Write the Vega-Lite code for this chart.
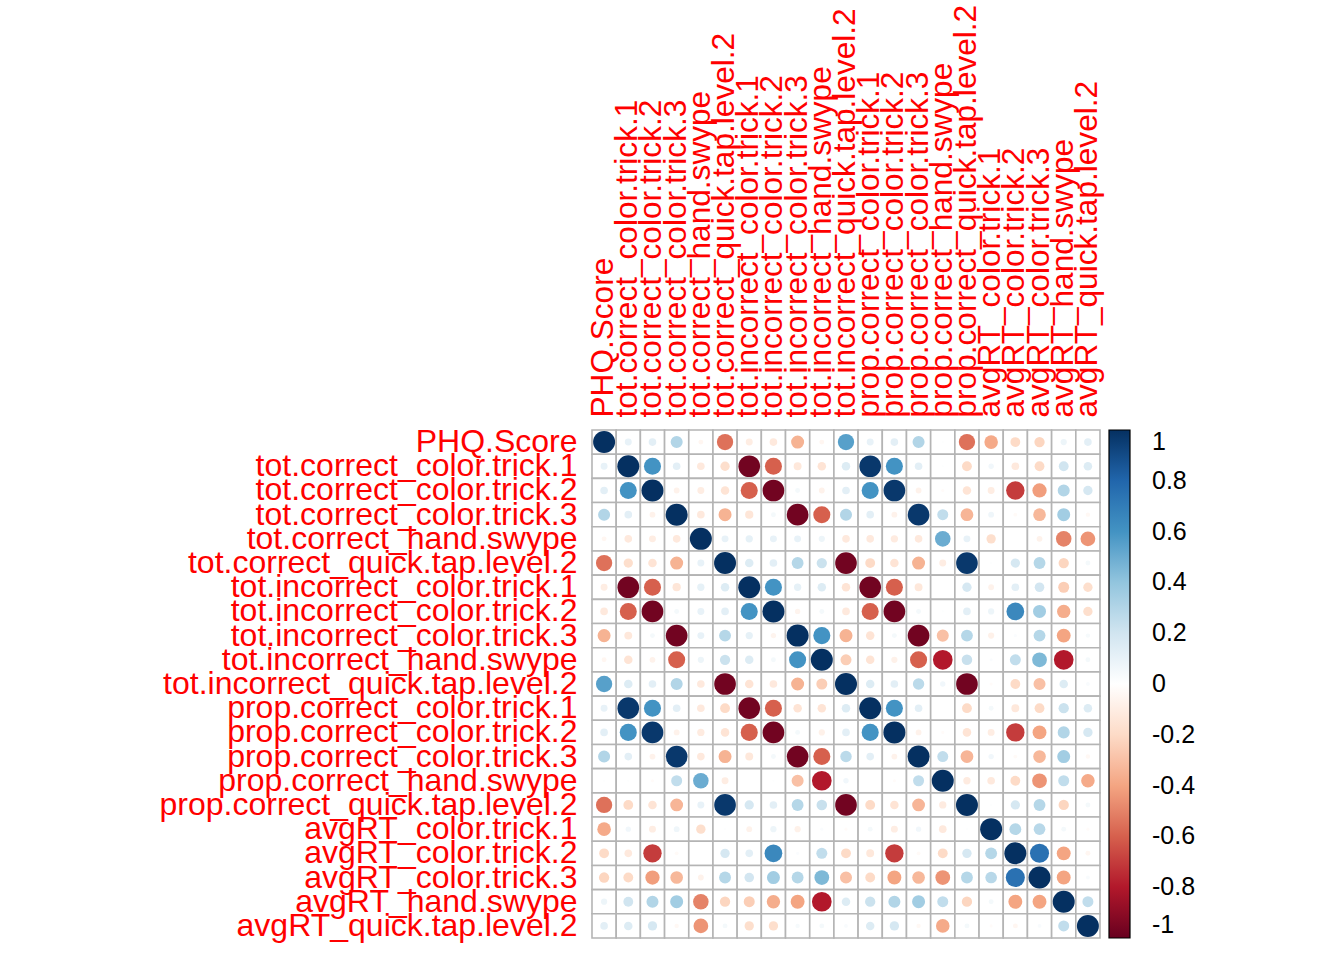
{
"$schema": "https://vega.github.io/schema/vega-lite/v6.json",
"width": 508, "height": 508,
"autosize": {"type": "none"},
"padding": {"left": 592, "top": 430, "right": 244, "bottom": 22},
"config": {"view": {"stroke": null}, "font": "Liberation Sans"},
"data": {"values": [
{"i":0,"j":0,"r":1},{"i":0,"j":1,"r":0.1},{"i":0,"j":2,"r":0.12},{"i":0,"j":3,"r":0.3},{"i":0,"j":4,"r":-0.05},{"i":0,"j":5,"r":-0.55},{"i":0,"j":6,"r":-0.1},{"i":0,"j":7,"r":-0.12},{"i":0,"j":8,"r":-0.35},{"i":0,"j":9,"r":-0.05},{"i":0,"j":10,"r":0.55},{"i":0,"j":11,"r":0.1},{"i":0,"j":12,"r":0.12},{"i":0,"j":13,"r":0.3},{"i":0,"j":14,"r":0.01},{"i":0,"j":15,"r":-0.55},{"i":0,"j":16,"r":-0.38},{"i":0,"j":17,"r":-0.2},{"i":0,"j":18,"r":-0.22},{"i":0,"j":19,"r":0.08},{"i":0,"j":20,"r":0.12},
{"i":1,"j":0,"r":0.1},{"i":1,"j":1,"r":1},{"i":1,"j":2,"r":0.6},{"i":1,"j":3,"r":0.12},{"i":1,"j":4,"r":-0.12},{"i":1,"j":5,"r":-0.18},{"i":1,"j":6,"r":-0.97},{"i":1,"j":7,"r":-0.6},{"i":1,"j":8,"r":-0.13},{"i":1,"j":9,"r":-0.15},{"i":1,"j":10,"r":0.15},{"i":1,"j":11,"r":0.97},{"i":1,"j":12,"r":0.6},{"i":1,"j":13,"r":0.12},{"i":1,"j":14,"r":0.01},{"i":1,"j":15,"r":-0.2},{"i":1,"j":16,"r":0.06},{"i":1,"j":17,"r":-0.12},{"i":1,"j":18,"r":-0.2},{"i":1,"j":19,"r":0.2},{"i":1,"j":20,"r":0.15},
{"i":2,"j":0,"r":0.12},{"i":2,"j":1,"r":0.6},{"i":2,"j":2,"r":1},{"i":2,"j":3,"r":-0.07},{"i":2,"j":4,"r":-0.1},{"i":2,"j":5,"r":-0.15},{"i":2,"j":6,"r":-0.6},{"i":2,"j":7,"r":-0.97},{"i":2,"j":8,"r":0.05},{"i":2,"j":9,"r":-0.07},{"i":2,"j":10,"r":0.12},{"i":2,"j":11,"r":0.6},{"i":2,"j":12,"r":0.97},{"i":2,"j":13,"r":-0.07},{"i":2,"j":14,"r":-0.02},{"i":2,"j":15,"r":-0.15},{"i":2,"j":16,"r":-0.1},{"i":2,"j":17,"r":-0.7},{"i":2,"j":18,"r":-0.42},{"i":2,"j":19,"r":0.3},{"i":2,"j":20,"r":0.18},
{"i":3,"j":0,"r":0.3},{"i":3,"j":1,"r":0.12},{"i":3,"j":2,"r":-0.07},{"i":3,"j":3,"r":1},{"i":3,"j":4,"r":-0.12},{"i":3,"j":5,"r":-0.35},{"i":3,"j":6,"r":-0.14},{"i":3,"j":7,"r":0.05},{"i":3,"j":8,"r":-0.97},{"i":3,"j":9,"r":-0.6},{"i":3,"j":10,"r":0.3},{"i":3,"j":11,"r":0.12},{"i":3,"j":12,"r":-0.07},{"i":3,"j":13,"r":0.97},{"i":3,"j":14,"r":0.25},{"i":3,"j":15,"r":-0.34},{"i":3,"j":16,"r":0.07},{"i":3,"j":17,"r":-0.03},{"i":3,"j":18,"r":-0.33},{"i":3,"j":19,"r":0.35},{"i":3,"j":20,"r":-0.04},
{"i":4,"j":0,"r":-0.05},{"i":4,"j":1,"r":-0.12},{"i":4,"j":2,"r":-0.1},{"i":4,"j":3,"r":-0.12},{"i":4,"j":4,"r":1},{"i":4,"j":5,"r":0.1},{"i":4,"j":6,"r":0.11},{"i":4,"j":7,"r":0.1},{"i":4,"j":8,"r":0.1},{"i":4,"j":9,"r":0.08},{"i":4,"j":10,"r":-0.12},{"i":4,"j":11,"r":-0.12},{"i":4,"j":12,"r":-0.11},{"i":4,"j":13,"r":-0.12},{"i":4,"j":14,"r":0.5},{"i":4,"j":15,"r":0.1},{"i":4,"j":16,"r":-0.18},{"i":4,"j":17,"r":0},{"i":4,"j":18,"r":-0.07},{"i":4,"j":19,"r":-0.5},{"i":4,"j":20,"r":-0.45},
{"i":5,"j":0,"r":-0.55},{"i":5,"j":1,"r":-0.18},{"i":5,"j":2,"r":-0.15},{"i":5,"j":3,"r":-0.35},{"i":5,"j":4,"r":0.1},{"i":5,"j":5,"r":1},{"i":5,"j":6,"r":0.15},{"i":5,"j":7,"r":0.12},{"i":5,"j":8,"r":0.29},{"i":5,"j":9,"r":0.22},{"i":5,"j":10,"r":-0.97},{"i":5,"j":11,"r":-0.2},{"i":5,"j":12,"r":-0.15},{"i":5,"j":13,"r":-0.35},{"i":5,"j":14,"r":-0.1},{"i":5,"j":15,"r":0.97},{"i":5,"j":16,"r":0.01},{"i":5,"j":17,"r":0.18},{"i":5,"j":18,"r":0.29},{"i":5,"j":19,"r":-0.22},{"i":5,"j":20,"r":0.05},
{"i":6,"j":0,"r":-0.1},{"i":6,"j":1,"r":-0.97},{"i":6,"j":2,"r":-0.6},{"i":6,"j":3,"r":-0.14},{"i":6,"j":4,"r":0.11},{"i":6,"j":5,"r":0.15},{"i":6,"j":6,"r":1},{"i":6,"j":7,"r":0.6},{"i":6,"j":8,"r":0.11},{"i":6,"j":9,"r":0.15},{"i":6,"j":10,"r":-0.15},{"i":6,"j":11,"r":-0.97},{"i":6,"j":12,"r":-0.6},{"i":6,"j":13,"r":-0.13},{"i":6,"j":14,"r":0},{"i":6,"j":15,"r":0.18},{"i":6,"j":16,"r":-0.07},{"i":6,"j":17,"r":0.12},{"i":6,"j":18,"r":0.19},{"i":6,"j":19,"r":-0.25},{"i":6,"j":20,"r":-0.18},
{"i":7,"j":0,"r":-0.12},{"i":7,"j":1,"r":-0.6},{"i":7,"j":2,"r":-0.97},{"i":7,"j":3,"r":0.05},{"i":7,"j":4,"r":0.1},{"i":7,"j":5,"r":0.12},{"i":7,"j":6,"r":0.6},{"i":7,"j":7,"r":1},{"i":7,"j":8,"r":-0.06},{"i":7,"j":9,"r":0.05},{"i":7,"j":10,"r":-0.12},{"i":7,"j":11,"r":-0.6},{"i":7,"j":12,"r":-0.97},{"i":7,"j":13,"r":0.05},{"i":7,"j":14,"r":0.01},{"i":7,"j":15,"r":0.12},{"i":7,"j":16,"r":0.08},{"i":7,"j":17,"r":0.65},{"i":7,"j":18,"r":0.35},{"i":7,"j":19,"r":-0.37},{"i":7,"j":20,"r":-0.18},
{"i":8,"j":0,"r":-0.35},{"i":8,"j":1,"r":-0.13},{"i":8,"j":2,"r":0.05},{"i":8,"j":3,"r":-0.97},{"i":8,"j":4,"r":0.1},{"i":8,"j":5,"r":0.29},{"i":8,"j":6,"r":0.11},{"i":8,"j":7,"r":-0.06},{"i":8,"j":8,"r":1},{"i":8,"j":9,"r":0.6},{"i":8,"j":10,"r":-0.35},{"i":8,"j":11,"r":-0.15},{"i":8,"j":12,"r":0.05},{"i":8,"j":13,"r":-0.97},{"i":8,"j":14,"r":-0.3},{"i":8,"j":15,"r":0.29},{"i":8,"j":16,"r":-0.08},{"i":8,"j":17,"r":0.02},{"i":8,"j":18,"r":0.29},{"i":8,"j":19,"r":-0.4},{"i":8,"j":20,"r":0.04},
{"i":9,"j":0,"r":-0.05},{"i":9,"j":1,"r":-0.15},{"i":9,"j":2,"r":-0.07},{"i":9,"j":3,"r":-0.6},{"i":9,"j":4,"r":0.08},{"i":9,"j":5,"r":0.22},{"i":9,"j":6,"r":0.15},{"i":9,"j":7,"r":0.05},{"i":9,"j":8,"r":0.6},{"i":9,"j":9,"r":1},{"i":9,"j":10,"r":-0.25},{"i":9,"j":11,"r":-0.15},{"i":9,"j":12,"r":-0.08},{"i":9,"j":13,"r":-0.6},{"i":9,"j":14,"r":-0.8},{"i":9,"j":15,"r":0.23},{"i":9,"j":16,"r":0.02},{"i":9,"j":17,"r":0.25},{"i":9,"j":18,"r":0.45},{"i":9,"j":19,"r":-0.8},{"i":9,"j":20,"r":0.05},
{"i":10,"j":0,"r":0.55},{"i":10,"j":1,"r":0.15},{"i":10,"j":2,"r":0.12},{"i":10,"j":3,"r":0.3},{"i":10,"j":4,"r":-0.12},{"i":10,"j":5,"r":-0.97},{"i":10,"j":6,"r":-0.15},{"i":10,"j":7,"r":-0.12},{"i":10,"j":8,"r":-0.35},{"i":10,"j":9,"r":-0.25},{"i":10,"j":10,"r":1},{"i":10,"j":11,"r":0.15},{"i":10,"j":12,"r":0.12},{"i":10,"j":13,"r":0.27},{"i":10,"j":14,"r":0.06},{"i":10,"j":15,"r":-0.97},{"i":10,"j":16,"r":-0.02},{"i":10,"j":17,"r":-0.2},{"i":10,"j":18,"r":-0.3},{"i":10,"j":19,"r":0.15},{"i":10,"j":20,"r":0.03},
{"i":11,"j":0,"r":0.1},{"i":11,"j":1,"r":0.97},{"i":11,"j":2,"r":0.6},{"i":11,"j":3,"r":0.12},{"i":11,"j":4,"r":-0.12},{"i":11,"j":5,"r":-0.2},{"i":11,"j":6,"r":-0.97},{"i":11,"j":7,"r":-0.6},{"i":11,"j":8,"r":-0.15},{"i":11,"j":9,"r":-0.15},{"i":11,"j":10,"r":0.15},{"i":11,"j":11,"r":1},{"i":11,"j":12,"r":0.6},{"i":11,"j":13,"r":0.12},{"i":11,"j":14,"r":0},{"i":11,"j":15,"r":-0.2},{"i":11,"j":16,"r":0.05},{"i":11,"j":17,"r":-0.13},{"i":11,"j":18,"r":-0.2},{"i":11,"j":19,"r":0.22},{"i":11,"j":20,"r":0.15},
{"i":12,"j":0,"r":0.12},{"i":12,"j":1,"r":0.6},{"i":12,"j":2,"r":0.97},{"i":12,"j":3,"r":-0.07},{"i":12,"j":4,"r":-0.11},{"i":12,"j":5,"r":-0.15},{"i":12,"j":6,"r":-0.6},{"i":12,"j":7,"r":-0.97},{"i":12,"j":8,"r":0.05},{"i":12,"j":9,"r":-0.08},{"i":12,"j":10,"r":0.12},{"i":12,"j":11,"r":0.6},{"i":12,"j":12,"r":1},{"i":12,"j":13,"r":-0.07},{"i":12,"j":14,"r":-0.02},{"i":12,"j":15,"r":-0.15},{"i":12,"j":16,"r":-0.1},{"i":12,"j":17,"r":-0.7},{"i":12,"j":18,"r":-0.4},{"i":12,"j":19,"r":0.3},{"i":12,"j":20,"r":0.18},
{"i":13,"j":0,"r":0.3},{"i":13,"j":1,"r":0.12},{"i":13,"j":2,"r":-0.07},{"i":13,"j":3,"r":0.97},{"i":13,"j":4,"r":-0.12},{"i":13,"j":5,"r":-0.35},{"i":13,"j":6,"r":-0.13},{"i":13,"j":7,"r":0.05},{"i":13,"j":8,"r":-0.97},{"i":13,"j":9,"r":-0.6},{"i":13,"j":10,"r":0.27},{"i":13,"j":11,"r":0.12},{"i":13,"j":12,"r":-0.07},{"i":13,"j":13,"r":1},{"i":13,"j":14,"r":0.25},{"i":13,"j":15,"r":-0.34},{"i":13,"j":16,"r":0.06},{"i":13,"j":17,"r":-0.03},{"i":13,"j":18,"r":-0.33},{"i":13,"j":19,"r":0.35},{"i":13,"j":20,"r":-0.04},
{"i":14,"j":0,"r":0.01},{"i":14,"j":1,"r":0.01},{"i":14,"j":2,"r":-0.02},{"i":14,"j":3,"r":0.25},{"i":14,"j":4,"r":0.5},{"i":14,"j":5,"r":-0.1},{"i":14,"j":6,"r":0},{"i":14,"j":7,"r":0.01},{"i":14,"j":8,"r":-0.3},{"i":14,"j":9,"r":-0.8},{"i":14,"j":10,"r":0.06},{"i":14,"j":11,"r":0},{"i":14,"j":12,"r":-0.02},{"i":14,"j":13,"r":0.25},{"i":14,"j":14,"r":1},{"i":14,"j":15,"r":-0.11},{"i":14,"j":16,"r":-0.12},{"i":14,"j":17,"r":-0.2},{"i":14,"j":18,"r":-0.45},{"i":14,"j":19,"r":0.25},{"i":14,"j":20,"r":-0.38},
{"i":15,"j":0,"r":-0.55},{"i":15,"j":1,"r":-0.2},{"i":15,"j":2,"r":-0.15},{"i":15,"j":3,"r":-0.34},{"i":15,"j":4,"r":0.1},{"i":15,"j":5,"r":0.97},{"i":15,"j":6,"r":0.18},{"i":15,"j":7,"r":0.12},{"i":15,"j":8,"r":0.29},{"i":15,"j":9,"r":0.23},{"i":15,"j":10,"r":-0.97},{"i":15,"j":11,"r":-0.2},{"i":15,"j":12,"r":-0.15},{"i":15,"j":13,"r":-0.34},{"i":15,"j":14,"r":-0.11},{"i":15,"j":15,"r":1},{"i":15,"j":16,"r":0.01},{"i":15,"j":17,"r":0.18},{"i":15,"j":18,"r":0.29},{"i":15,"j":19,"r":-0.22},{"i":15,"j":20,"r":0.05},
{"i":16,"j":0,"r":-0.38},{"i":16,"j":1,"r":0.06},{"i":16,"j":2,"r":-0.1},{"i":16,"j":3,"r":0.07},{"i":16,"j":4,"r":-0.18},{"i":16,"j":5,"r":0.01},{"i":16,"j":6,"r":-0.07},{"i":16,"j":7,"r":0.08},{"i":16,"j":8,"r":-0.08},{"i":16,"j":9,"r":0.02},{"i":16,"j":10,"r":-0.02},{"i":16,"j":11,"r":0.05},{"i":16,"j":12,"r":-0.1},{"i":16,"j":13,"r":0.06},{"i":16,"j":14,"r":-0.12},{"i":16,"j":15,"r":0.01},{"i":16,"j":16,"r":1},{"i":16,"j":17,"r":0.29},{"i":16,"j":18,"r":0.28},{"i":16,"j":19,"r":0.05},{"i":16,"j":20,"r":-0.02},
{"i":17,"j":0,"r":-0.2},{"i":17,"j":1,"r":-0.12},{"i":17,"j":2,"r":-0.7},{"i":17,"j":3,"r":-0.03},{"i":17,"j":4,"r":0},{"i":17,"j":5,"r":0.18},{"i":17,"j":6,"r":0.12},{"i":17,"j":7,"r":0.65},{"i":17,"j":8,"r":0.02},{"i":17,"j":9,"r":0.25},{"i":17,"j":10,"r":-0.2},{"i":17,"j":11,"r":-0.13},{"i":17,"j":12,"r":-0.7},{"i":17,"j":13,"r":-0.03},{"i":17,"j":14,"r":-0.2},{"i":17,"j":15,"r":0.18},{"i":17,"j":16,"r":0.29},{"i":17,"j":17,"r":1},{"i":17,"j":18,"r":0.75},{"i":17,"j":19,"r":-0.4},{"i":17,"j":20,"r":-0.05},
{"i":18,"j":0,"r":-0.22},{"i":18,"j":1,"r":-0.2},{"i":18,"j":2,"r":-0.42},{"i":18,"j":3,"r":-0.33},{"i":18,"j":4,"r":-0.07},{"i":18,"j":5,"r":0.29},{"i":18,"j":6,"r":0.19},{"i":18,"j":7,"r":0.35},{"i":18,"j":8,"r":0.29},{"i":18,"j":9,"r":0.45},{"i":18,"j":10,"r":-0.3},{"i":18,"j":11,"r":-0.2},{"i":18,"j":12,"r":-0.4},{"i":18,"j":13,"r":-0.33},{"i":18,"j":14,"r":-0.45},{"i":18,"j":15,"r":0.29},{"i":18,"j":16,"r":0.28},{"i":18,"j":17,"r":0.75},{"i":18,"j":18,"r":1},{"i":18,"j":19,"r":-0.4},{"i":18,"j":20,"r":0.03},
{"i":19,"j":0,"r":0.08},{"i":19,"j":1,"r":0.2},{"i":19,"j":2,"r":0.3},{"i":19,"j":3,"r":0.35},{"i":19,"j":4,"r":-0.5},{"i":19,"j":5,"r":-0.22},{"i":19,"j":6,"r":-0.25},{"i":19,"j":7,"r":-0.37},{"i":19,"j":8,"r":-0.4},{"i":19,"j":9,"r":-0.8},{"i":19,"j":10,"r":0.15},{"i":19,"j":11,"r":0.22},{"i":19,"j":12,"r":0.3},{"i":19,"j":13,"r":0.35},{"i":19,"j":14,"r":0.25},{"i":19,"j":15,"r":-0.22},{"i":19,"j":16,"r":0.05},{"i":19,"j":17,"r":-0.4},{"i":19,"j":18,"r":-0.4},{"i":19,"j":19,"r":1},{"i":19,"j":20,"r":0.25},
{"i":20,"j":0,"r":0.12},{"i":20,"j":1,"r":0.15},{"i":20,"j":2,"r":0.18},{"i":20,"j":3,"r":-0.04},{"i":20,"j":4,"r":-0.45},{"i":20,"j":5,"r":0.05},{"i":20,"j":6,"r":-0.18},{"i":20,"j":7,"r":-0.18},{"i":20,"j":8,"r":0.04},{"i":20,"j":9,"r":0.05},{"i":20,"j":10,"r":0.03},{"i":20,"j":11,"r":0.15},{"i":20,"j":12,"r":0.18},{"i":20,"j":13,"r":-0.04},{"i":20,"j":14,"r":-0.38},{"i":20,"j":15,"r":0.05},{"i":20,"j":16,"r":-0.02},{"i":20,"j":17,"r":-0.05},{"i":20,"j":18,"r":0.03},{"i":20,"j":19,"r":0.25},{"i":20,"j":20,"r":1}
]},
"transform": [{"calculate": "abs(datum.r)", "as": "absr"}],
"encoding": {
  "x": {"field": "j", "type": "ordinal", "scale": {"paddingInner": 0, "paddingOuter": 0},
    "axis": {"orient": "top", "title": null, "domain": false, "ticks": false, "labelAngle": -90, "labelAlign": "left", "labelBaseline": "middle", "labelPadding": 13, "labelColor": "#FF0000", "labelFontSize": 31.6, "labelFont": "Liberation Sans", "labelLimit": 1000, "labelOverlap": false,
      "labelExpr": "['PHQ.Score','tot.correct_color.trick.1','tot.correct_color.trick.2','tot.correct_color.trick.3','tot.correct_hand.swype','tot.correct_quick.tap.level.2','tot.incorrect_color.trick.1','tot.incorrect_color.trick.2','tot.incorrect_color.trick.3','tot.incorrect_hand.swype','tot.incorrect_quick.tap.level.2','prop.correct_color.trick.1','prop.correct_color.trick.2','prop.correct_color.trick.3','prop.correct_hand.swype','prop.correct_quick.tap.level.2','avgRT_color.trick.1','avgRT_color.trick.2','avgRT_color.trick.3','avgRT_hand.swype','avgRT_quick.tap.level.2'][datum.value]"}},
  "y": {"field": "i", "type": "ordinal", "scale": {"paddingInner": 0, "paddingOuter": 0},
    "axis": {"orient": "left", "title": null, "domain": false, "ticks": false, "labelAlign": "right", "labelBaseline": "middle", "labelPadding": 15, "labelColor": "#FF0000", "labelFontSize": 32, "labelFont": "Liberation Sans", "labelLimit": 1000, "labelOverlap": false,
      "labelExpr": "['PHQ.Score','tot.correct_color.trick.1','tot.correct_color.trick.2','tot.correct_color.trick.3','tot.correct_hand.swype','tot.correct_quick.tap.level.2','tot.incorrect_color.trick.1','tot.incorrect_color.trick.2','tot.incorrect_color.trick.3','tot.incorrect_hand.swype','tot.incorrect_quick.tap.level.2','prop.correct_color.trick.1','prop.correct_color.trick.2','prop.correct_color.trick.3','prop.correct_hand.swype','prop.correct_quick.tap.level.2','avgRT_color.trick.1','avgRT_color.trick.2','avgRT_color.trick.3','avgRT_hand.swype','avgRT_quick.tap.level.2'][datum.value]"}}
},
"layer": [
  {"mark": {"type": "rect", "fill": "white", "stroke": "#b4b4b4", "strokeWidth": 1.6}},
  {"mark": {"type": "circle", "opacity": 1, "strokeWidth": 0},
   "encoding": {
     "size": {"field": "absr", "type": "quantitative", "scale": {"domain": [0, 1], "range": [0, 484], "zero": true}, "legend": null},
     "color": {"field": "r", "type": "quantitative",
       "scale": {"domain": [-1, -0.8, -0.6, -0.4, -0.2, 0, 0.2, 0.4, 0.6, 0.8, 1], "range": ["#67001F", "#B2182B", "#D6604D", "#F4A582", "#FDDBC7", "#FFFFFF", "#D1E5F0", "#92C5DE", "#4393C3", "#2166AC", "#053061"], "interpolate": "rgb"},
       "legend": {"title": null, "orient": "right", "offset": 9, "direction": "vertical", "gradientLength": 508, "gradientThickness": 21, "gradientStrokeColor": "black", "gradientStrokeWidth": 1.2, "values": [-1, -0.8, -0.6, -0.4, -0.2, 0, 0.2, 0.4, 0.6, 0.8, 1], "labelFontSize": 25, "labelFont": "Liberation Sans", "labelColor": "black", "labelAlign": "center", "labelBaseline": "middle", "labelOffset": 22, "labelOverlap": false, "labelExpr": "'' + datum.value"}}
   }}
]
}
